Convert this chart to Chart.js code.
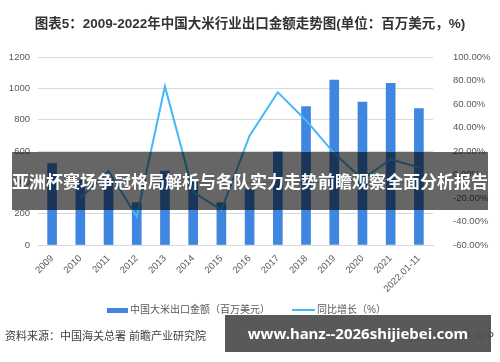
<!DOCTYPE html>
<html>
<head>
<meta charset="utf-8">
<script src="https://cdn.jsdelivr.net/npm/chart.js@4.4.1/dist/chart.umd.min.js"></script>
<style>
  body { margin: 0; background: #fff; font-family: "Liberation Sans", "Noto Sans CJK SC", sans-serif; }
  #wrap { position: relative; width: 500px; height: 362px; overflow: hidden; }
  #title { position: absolute; left: 0; top: 12px; width: 500px; text-align: center; font-size: 13.5px; font-weight: bold; color: #333; }
  #legend { position: absolute; left: 0; top: 301px; width: 500px; font-size: 10px; color: #595959; }
  .leg { position: absolute; top: 0; white-space: nowrap; }
  .sw { display: inline-block; vertical-align: middle; margin-right: 2px; }
  #source { position: absolute; left: 5px; top: 327px; font-size: 11px; color: #404040; }
  #app { position: absolute; right: 6px; top: 328px; font-size: 10px; color: #404040; }
  #banner { position: absolute; left: 12px; top: 152px; width: 476px; height: 58px; background: rgba(0,0,0,0.6);
            color: #fff; font-size: 17px; font-weight: bold; line-height: 58px; text-align: center; white-space: nowrap;
            font-family: "Noto Sans CJK SC", sans-serif; }
  #mark { position: absolute; left: 225px; top: 315px; width: 266px; height: 37px; background: rgba(80,80,80,0.95);
          color: #fff; font-size: 15px; font-weight: bold; line-height: 37px; text-align: center; white-space: nowrap;
          font-family: "Noto Sans", sans-serif; }
</style>
</head>
<body>
<div id="wrap">
  <canvas id="riceChart" width="500" height="362"></canvas>
  <div id="title">图表5：2009-2022年中国大米行业出口金额走势图(单位：百万美元，%)</div>
  <div id="legend">
    <span class="leg" style="left:107px"><span class="sw" style="width:21px;height:5px;background:#3f86e0"></span>中国大米出口金额（百万美元）</span>
    <span class="leg" style="left:292px"><span class="sw" style="width:23px;height:2px;background:#45b8f5"></span>同比增长（%）</span>
  </div>
  <div id="source">资料来源：中国海关总署 前瞻产业研究院</div>
  <div id="app">@前瞻经济学人APP</div>
  <div id="banner">亚洲杯赛场争冠格局解析与各队实力走势前瞻观察全面分析报告</div>
  <div id="mark">www.hanz--2026shijiebei.com</div>
</div>
<script>
// data
const years = ["2009", "2010", "2011", "2012", "2013", "2014", "2015", "2016", "2017", "2018", "2019", "2020", "2021", "2022.01-11"];
const exportValue = [520, 415, 425, 270, 472, 400, 270, 355, 594, 884, 1053, 912, 1032, 870];
const growth = [null, -20, 3, -36, 75, -15, -30, 33, 70, 46, 18, -4, 13, 6];

const ctx = document.getElementById("riceChart").getContext("2d");

const riceChart = new Chart(ctx, {
  type: "bar",
  data: {
    labels: years,
    datasets: [{
      type: "line",
      label: "同比增长（%）",
      data: growth,
      yAxisID: "y1",
      borderColor: "#45b8f5",
      borderWidth: 2,
      pointRadius: 0,
      tension: 0,
      fill: false
    }, {
      type: "bar",
      label: "中国大米出口金额（百万美元）",
      data: exportValue,
      yAxisID: "y",
      backgroundColor: "#3f86e0",
      barThickness: 9
    }]
  },
  options: {
    responsive: false,
    animation: false,
    layout: { padding: { top: 57, left: 0, right: 0, bottom: 0 } },
    plugins: {
      legend: { display: false },
      tooltip: { enabled: false }
    },
    scales: {
      x: {
        grid: { display: false },
        border: { color: "#d9d9d9" },
        ticks: { color: "#595959", font: { size: 9.5 }, minRotation: 45, maxRotation: 45, padding: 0 },
        afterFit: function (scale) { scale.height = 117; }
      },
      y: {
        position: "left",
        min: 0, max: 1200,
        ticks: {
          stepSize: 200, color: "#595959", font: { size: 9.5 }, padding: 8,
          callback: function (v) { return String(v); }
        },
        grid: { color: "#d9d9d9", drawTicks: false },
        border: { display: false },
        afterFit: function (scale) { scale.width = 38; }
      },
      y1: {
        position: "right",
        min: -60, max: 100,
        ticks: {
          stepSize: 20, color: "#595959", font: { size: 9.5 }, padding: 12,
          callback: function (v) { return v.toFixed(2) + "%"; }
        },
        grid: { display: false },
        border: { display: false },
        afterFit: function (scale) { scale.width = 67; }
      }
    }
  }
});
</script>
</body>
</html>
